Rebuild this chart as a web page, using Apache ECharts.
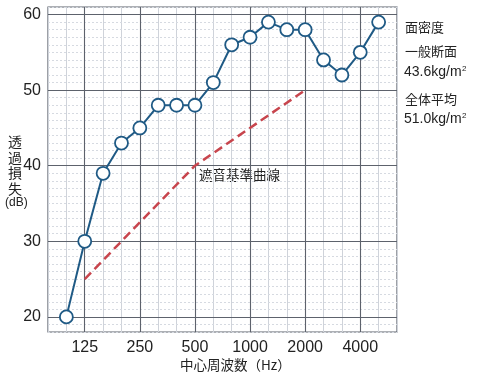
<!DOCTYPE html>
<html><head><meta charset="utf-8">
<script src="https://cdn.jsdelivr.net/npm/echarts@6/dist/echarts.min.js"></script>
<style>html,body{margin:0;padding:0;background:#fff}#c{width:480px;height:379px}</style>
</head><body><div id="c"></div>
<script>
// 1/3 octave band centre frequencies (Hz) spanning the x axis
const bands = ['80','100','125','160','200','250','315','400','500','630','800','1000','1250','1600','2000','2500','3150','4000','5000','6300'];
// measured transmission loss (dB)
const tlFreq = ['100','125','160','200','250','315','400','500','630','800','1000','1250','1600','2000','2500','3150','4000','5000'];
const tlValues = [20,30,39,43,45,48,48,48,51,56,57,59,58,58,54,52,55,59];
// reference curve (遮音基準曲線)
const refFreq = ['125','500','2000'];
const refValues = [25,40,50];
// tick labels
const xTickLabels = ['125','250','500','1000','2000','4000'];
const yTickLabels = [20,30,40,50,60];

const FONT = "'Liberation Sans','Noto Sans CJK JP',sans-serif";
const JFONT = "'Noto Sans CJK JP','Liberation Sans',sans-serif";
const major = '#5d626c', minor = '#cfd3da', minorDot = '#d6dae1', lineBlue = '#1f5a85', red = '#c8454d';
const clear = 'rgba(0,0,0,0)';

const tlData = tlFreq.map((f,i)=>[bands.indexOf(f), tlValues[i]]);
const refData = refFreq.map((f,i)=>[bands.indexOf(f), refValues[i]]);

const yMajorColors = [];
for (let i=0;i<10;i++) yMajorColors.push(i===2 ? major : clear);

const chart = echarts.init(document.getElementById('c'), null, {renderer:'canvas'});
chart.setOption({
  animation:false,
  backgroundColor:'#fff',
  grid:{left:48,right:83,top:7,bottom:47,show:true,borderColor:major,borderWidth:1.2,backgroundColor:'transparent'},
  xAxis:[
    {type:'value',min:0,max:bands.length-1,interval:1,z:0,
      axisLine:{show:false},axisTick:{show:false},
      axisLabel:{margin:8,fontSize:16,color:'#222',fontFamily:FONT,
        formatter:v=>xTickLabels.indexOf(bands[v])>=0?bands[v]:''},
      splitLine:{show:true,lineStyle:{color:[minor,minor,clear],width:1}}},
    {type:'value',min:0,max:bands.length-1,interval:1,z:3,position:'top',
      axisLine:{show:false},axisTick:{show:false},axisLabel:{show:false},
      splitLine:{show:true,lineStyle:{color:[clear,clear,major],width:1.1}}}
  ],
  yAxis:[
    {type:'value',min:18,max:61,interval:1,z:2,
      axisLine:{show:false},axisTick:{show:false},
      axisLabel:{margin:7,fontSize:16,color:'#222',fontFamily:FONT,
        formatter:v=>yTickLabels.indexOf(v)>=0?String(v):''},
      splitLine:{show:true,lineStyle:{color:yMajorColors,width:1.1}}},
    {type:'value',min:18,max:61,interval:1,z:1,position:'left',
      axisLine:{show:false},axisTick:{show:false},axisLabel:{show:false},
      splitLine:{show:true,lineStyle:{color:minorDot,width:1,type:[2,2]}}}
  ],
  series:[
    {type:'line',data:refData,symbol:'none',z:3,
      lineStyle:{color:red,width:2.5,type:[9,5]}},
    {type:'line',data:tlData,symbol:'circle',symbolSize:13,z:4,
      lineStyle:{color:lineBlue,width:2},
      itemStyle:{color:'#fff',borderColor:lineBlue,borderWidth:1.8}}
  ],
  graphic:[
    {type:'text',left:8,top:134,style:{text:'透\n過\n損\n失',font:'14px '+JFONT,lineHeight:15.5,fill:'#222'}},
    {type:'text',left:5,top:197,style:{text:'(dB)',font:'12px '+FONT,fill:'#222'}},
    {type:'text',left:180,top:358,style:{text:'中心周波数（Hz）',font:'13.5px '+JFONT,fill:'#222'}},
    {type:'text',left:199,top:168,style:{text:'遮音基準曲線',font:'13.5px '+JFONT,fill:'#222'}},
    {type:'text',left:405,top:21,style:{text:'面密度',font:'13px '+JFONT,fill:'#222'}},
    {type:'text',left:405,top:45,style:{text:'一般断面',font:'13px '+JFONT,fill:'#222'}},
    {type:'text',left:404,top:65,style:{text:'43.6kg/m',font:'14px '+FONT,fill:'#222'}},
    {type:'text',left:462,top:65,style:{text:'2',font:'8px '+FONT,fill:'#222'}},
    {type:'text',left:405,top:93,style:{text:'全体平均',font:'13px '+JFONT,fill:'#222'}},
    {type:'text',left:404,top:112,style:{text:'51.0kg/m',font:'14px '+FONT,fill:'#222'}},
    {type:'text',left:462,top:112,style:{text:'2',font:'8px '+FONT,fill:'#222'}}
  ]
});
</script></body></html>
